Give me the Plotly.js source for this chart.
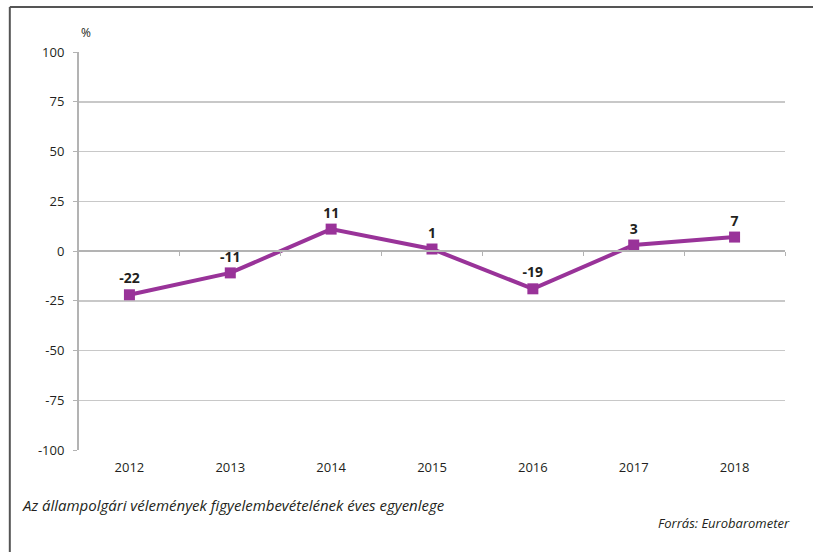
<!DOCTYPE html>
<html>
<head>
<meta charset="utf-8">
<script src="https://cdn.plot.ly/plotly-3.0.1.min.js"></script>
<style>html,body{margin:0;padding:0;background:#fff;}#chart{width:813px;height:552px;}</style>
</head>
<body>
<div id="chart"></div>
<script>
const years = ['2012','2013','2014','2015','2016','2017','2018'];
const balance = [-22, -11, 11, 1, -19, 3, 7];
const yTickVals = [-100, -75, -50, -25, 0, 25, 50, 75, 100];
const yTickText = ['-100', '-75', '-50', '-25', '0', '25', '50', '75', '100'];
const caption = 'Az állampolgári vélemények figyelembevételének éves egyenlege';
const source = 'Forrás: Eurobarometer';

const idx = years.map((_, i) => i);
const boundaries = years.slice(1).map((_, i) => i + 0.5).concat([years.length - 0.5]);

const trace = {
  x: idx,
  y: balance,
  mode: 'lines+markers+text',
  text: balance.map(v => String(v)),
  textposition: 'top center',
  textfont: {family: 'Open Sans, sans-serif', size: 14, color: '#231f20', weight: 700},
  line: {color: '#993399', width: 4},
  marker: {color: '#993399', symbol: 'square', size: 11},
  cliponaxis: false,
  hoverinfo: 'skip',
  showlegend: false
};

const zeroAxisTrace = {
  x: [0], y: [0], xaxis: 'x2', yaxis: 'y', mode: 'markers',
  marker: {opacity: 0}, showlegend: false, hoverinfo: 'skip'
};

const layout = {
  width: 813, height: 552,
  margin: {l: 79, r: 28, t: 52, b: 102},
  paper_bgcolor: '#ffffff', plot_bgcolor: '#ffffff',
  font: {family: 'Open Sans, sans-serif', size: 13, color: '#231f20'},
  xaxis: {
    range: [-0.5, years.length - 0.5],
    tickvals: idx, ticktext: years,
    showgrid: false, zeroline: false, showline: false,
    ticks: '', tickfont: {size: 13, color: '#231f20'},
    ticklabelstandoff: 8,
    fixedrange: true
  },
  xaxis2: {
    overlaying: 'x', anchor: 'free', position: 0.5,
    range: [-0.5, years.length - 0.5],
    tickvals: boundaries, showticklabels: false,
    ticks: 'outside', ticklen: 4, tickcolor: '#b3b3b3', tickwidth: 1,
    showline: true, linecolor: '#b3b3b3', linewidth: 2,
    showgrid: false, zeroline: false
  },
  yaxis: {
    range: [-100, 100],
    tickvals: yTickVals, ticktext: yTickText,
    showgrid: true, gridcolor: '#c8c8c8', gridwidth: 1.5,
    zeroline: false,
    showline: true, linecolor: '#b3b3b3', linewidth: 2,
    ticks: 'outside', ticklen: 4, tickcolor: '#b3b3b3',
    tickfont: {size: 13, color: '#231f20'},
    ticklabelstandoff: 6,
    fixedrange: true
  },
  shapes: [
    {type: 'line', xref: 'paper', yref: 'paper', x0: -0.098, x1: 1.1, y0: 1.113, y1: 1.113,
     line: {color: '#555555', width: 2}},
    {type: 'line', xref: 'paper', yref: 'paper', x0: -0.098, x1: -0.098, y0: 1.113, y1: -0.3,
     line: {color: '#555555', width: 2}}
  ],
  annotations: [
    {text: '%', xref: 'paper', yref: 'paper', x: 0, y: 1.048, xanchor: 'left', yanchor: 'middle',
     showarrow: false, font: {size: 12, color: '#231f20'}},
    {text: '<i>' + caption + '</i>', xref: 'paper', yref: 'paper', x: -0.084, y: -0.138,
     xanchor: 'left', yanchor: 'middle', showarrow: false, font: {size: 15, color: '#231f20'}},
    {text: '<i>' + source + '</i>', xref: 'paper', yref: 'paper', x: 1.01, y: -0.184,
     xanchor: 'right', yanchor: 'middle', showarrow: false, font: {size: 13, color: '#231f20'}}
  ]
};

Plotly.newPlot('chart', [trace, zeroAxisTrace], layout, {staticPlot: true, displayModeBar: false});
</script>
</body>
</html>
